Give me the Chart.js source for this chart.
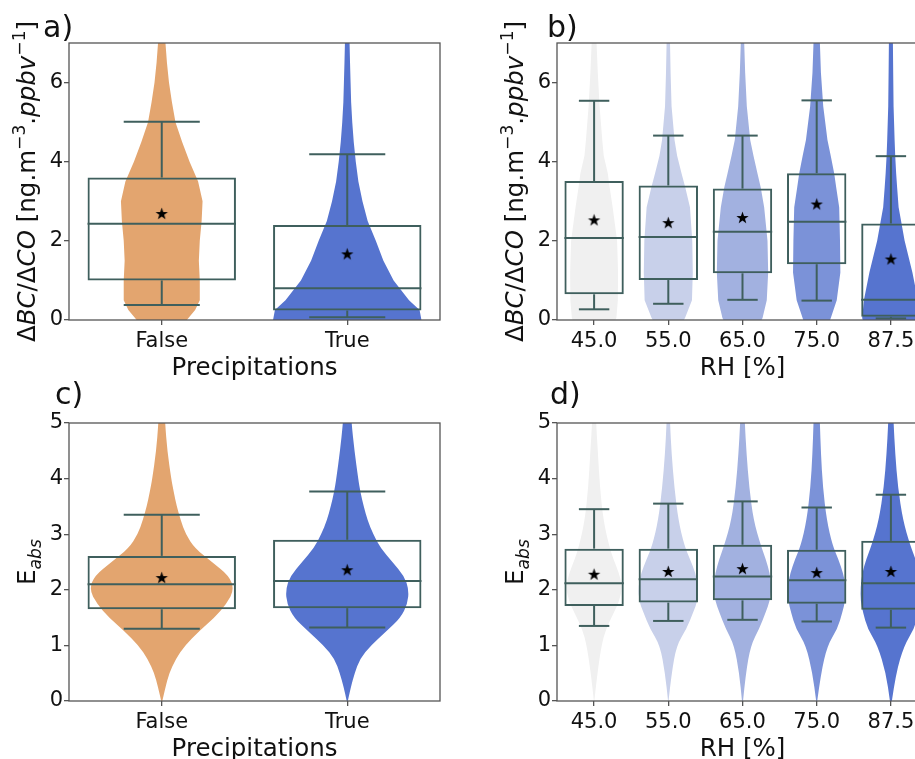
<!DOCTYPE html>
<html>
<head>
<meta charset="utf-8">
<script src="https://cdn.jsdelivr.net/npm/chart.js@4.4.0/dist/chart.umd.min.js"></script>
<style>
html, body { margin: 0; padding: 0; overflow: hidden; background: #fff; }
body { position: relative; width: 915px; height: 759px; }
canvas { position: absolute; }
</style>
</head>
<body>
<canvas id="panelA" width="460" height="380" style="left:0px;top:0px"></canvas>
<canvas id="panelB" width="480" height="380" style="left:460px;top:0px"></canvas>
<canvas id="panelC" width="460" height="420" style="left:0px;top:380px"></canvas>
<canvas id="panelD" width="480" height="420" style="left:460px;top:380px"></canvas>
<script>
// categories / ticks
const precipCats = ['False', 'True'];
const rhCats = ['45.0', '55.0', '65.0', '75.0', '87.5'];
const ticksRatio = [0, 2, 4, 6];
const ticksEabs = [0, 1, 2, 3, 4, 5];

// panel a : violin outline (half width in category units at each y level) + box stats
const aLevels = [-0.3, 0, 0.25, 0.5, 1, 1.5, 2, 2.5, 3, 3.5, 4, 4.5, 5, 5.5, 6, 6.5, 7, 7.5];
const aFalse = [0.065, 0.135, 0.18, 0.205, 0.205, 0.2, 0.205, 0.215, 0.22, 0.196, 0.15, 0.11, 0.074, 0.055, 0.039, 0.028, 0.02, 0.015];
const aTrue = [0.2, 0.40, 0.39, 0.333, 0.25, 0.195, 0.154, 0.11, 0.082, 0.06, 0.046, 0.035, 0.027, 0.021, 0.018, 0.015, 0.0125, 0.011];
const aQ1 = [1.00, 0.24];
const aQ3 = [3.60, 2.40];
const aMed = [2.43, 0.80];
const aLo = [0.38, 0.07];
const aHi = [5.01, 4.19];
const aMean = [2.69, 1.67];

// panel b
const bLevels = [-0.3, 0.05, 0.5, 1.2, 2.0, 2.85, 3.35, 3.7, 4.15, 4.55, 5.4, 6.25, 7.0, 7.5];
const b45 = [0.2, 0.3, 0.32, 0.323, 0.31, 0.25, 0.21, 0.185, 0.13, 0.11, 0.074, 0.05, 0.033, 0.028];
const b55 = [0.11, 0.225, 0.319, 0.33, 0.323, 0.292, 0.229, 0.179, 0.119, 0.084, 0.044, 0.031, 0.023, 0.02];
const b65 = [0.17, 0.27, 0.327, 0.346, 0.337, 0.292, 0.246, 0.202, 0.148, 0.104, 0.058, 0.036, 0.023, 0.02];
const b75 = [0.12, 0.19, 0.27, 0.319, 0.314, 0.303, 0.263, 0.236, 0.189, 0.145, 0.088, 0.057, 0.043, 0.038];
const b875 = [0.33, 0.387, 0.364, 0.29, 0.185, 0.104, 0.084, 0.071, 0.058, 0.05, 0.036, 0.031, 0.027, 0.025];
const bQ1 = [0.65, 1.01, 1.18, 1.41, 0.08];
const bQ3 = [3.51, 3.40, 3.32, 3.71, 2.44];
const bMed = [2.07, 2.10, 2.23, 2.48, 0.51];
const bLo = [0.27, 0.41, 0.51, 0.49, 0.04];
const bHi = [5.54, 4.66, 4.66, 5.55, 4.14];
const bMean = [2.53, 2.46, 2.59, 2.93, 1.54];

// panel c
const cLevels = [0, 0.25, 0.5, 0.75, 1, 1.25, 1.5, 1.75, 2, 2.25, 2.5, 2.75, 3, 3.25, 3.5, 3.75, 4, 4.5, 5, 5.3];
const cFalse = [0.003, 0.02, 0.04, 0.075, 0.125, 0.2, 0.284, 0.35, 0.39, 0.364, 0.27, 0.178, 0.129, 0.102, 0.081, 0.065, 0.051, 0.03, 0.018, 0.015];
const cTrue = [0.003, 0.019, 0.04, 0.067, 0.127, 0.21, 0.288, 0.325, 0.332, 0.307, 0.243, 0.18, 0.14, 0.109, 0.089, 0.071, 0.059, 0.039, 0.023, 0.019];
const cQ1 = [1.65, 1.67];
const cQ3 = [2.61, 2.90];
const cMed = [2.10, 2.16];
const cLo = [1.30, 1.32];
const cHi = [3.35, 3.77];
const cMean = [2.22, 2.36];

// panel d
const dLevels = [0, 0.5, 1, 1.3, 1.6, 1.8, 2.05, 2.3, 2.55, 2.8, 3.25, 3.85, 4.45, 5, 5.3];
const d45 = [0.003, 0.044, 0.1, 0.16, 0.27, 0.34, 0.38, 0.337, 0.26, 0.2, 0.125, 0.078, 0.052, 0.027, 0.022];
const d55 = [0.003, 0.044, 0.112, 0.246, 0.337, 0.395, 0.404, 0.368, 0.292, 0.215, 0.135, 0.081, 0.044, 0.023, 0.018];
const d65 = [0.007, 0.044, 0.112, 0.225, 0.314, 0.368, 0.39, 0.368, 0.314, 0.246, 0.148, 0.09, 0.054, 0.031, 0.025];
const d75 = [0.007, 0.057, 0.145, 0.28, 0.347, 0.384, 0.393, 0.357, 0.292, 0.213, 0.135, 0.083, 0.057, 0.043, 0.035];
const d875 = [0.013, 0.067, 0.18, 0.314, 0.377, 0.408, 0.408, 0.387, 0.333, 0.26, 0.162, 0.094, 0.058, 0.036, 0.03];
const dQ1 = [1.71, 1.77, 1.81, 1.75, 1.64];
const dQ3 = [2.74, 2.74, 2.81, 2.72, 2.88];
const dMed = [2.12, 2.19, 2.24, 2.17, 2.12];
const dLo = [1.35, 1.44, 1.46, 1.43, 1.32];
const dHi = [3.45, 3.55, 3.59, 3.48, 3.71];
const dMean = [2.28, 2.33, 2.38, 2.31, 2.33];

// colours
const precipColors = ['#E3A56F', '#5674CF'];
const rhColors = ['#F0F0F0', '#C8D0EA', '#A2B1E0', '#7B92D8', '#5674CF'];
const boxColor = '#3F5F5D';
const spineColor = '#555555';
const textColor = '#111111';
const FONT = '"DejaVu Sans", "Noto Sans", sans-serif';

// labels
const labelRatio = [
    { t: 'Δ' }, { t: 'BC', it: true }, { t: '/' }, { t: 'Δ' }, { t: 'CO', it: true },
    { t: ' [ng.m' }, { t: '−3', sup: true }, { t: '.' }, { t: 'ppbv', it: true }, { t: '−1', sup: true }, { t: ']' }
];
const labelEabs = [{ t: 'E' }, { t: 'abs', it: true, sub: true }];
const labelPrecip = [{ t: 'Precipitations' }];
const labelRH = [{ t: 'RH [%]' }];

// 5-point star used as the mean marker
function makeStar(R) {
    const c = document.createElement('canvas');
    const s = Math.ceil(R * 2 + 2);
    c.width = s; c.height = s;
    const g = c.getContext('2d');
    g.translate(s / 2, s / 2 + 0.5);
    g.beginPath();
    for (let k = 0; k < 10; k++) {
        const r = k % 2 ? R * 0.4 : R;
        const a = -Math.PI / 2 + k * Math.PI / 5;
        g.lineTo(r * Math.cos(a), r * Math.sin(a));
    }
    g.closePath();
    g.fillStyle = '#000';
    g.fill();
    return c;
}
const starImg = makeStar(6.5);

function segFont(seg, size) {
    const s = (seg.sup || seg.sub) ? size * 0.7 : size;
    return (seg.it ? 'italic ' : '') + s + 'px ' + FONT;
}

// draw mixed-style text centred on (0,0) baseline
function drawRich(ctx, segs, size) {
    let total = 0;
    segs.forEach(seg => { ctx.font = segFont(seg, size); total += ctx.measureText(seg.t).width; });
    let x = -total / 2;
    ctx.textAlign = 'left';
    ctx.textBaseline = 'alphabetic';
    ctx.fillStyle = textColor;
    segs.forEach(seg => {
        ctx.font = segFont(seg, size);
        let dy = 0;
        if (seg.sup) dy = -size * 0.42;
        if (seg.sub) dy = size * 0.26;
        ctx.fillText(seg.t, x, dy);
        x += ctx.measureText(seg.t).width;
    });
}

// per panel extras keyed by canvas id
const panels = {
    panelA: { levels: aLevels, widths: [aFalse, aTrue], colors: precipColors, med: aMed, lo: aLo, hi: aHi, q1: aQ1, q3: aQ3, smooth: false,
              letter: 'a)', letterX: 43, letterY: 37, xLabel: labelPrecip, yLabel: labelRatio },
    panelB: { levels: bLevels, widths: [b45, b55, b65, b75, b875], colors: rhColors, med: bMed, lo: bLo, hi: bHi, q1: bQ1, q3: bQ3, smooth: false,
              letter: 'b)', letterX: 87, letterY: 37, xLabel: labelRH, yLabel: labelRatio },
    panelC: { levels: cLevels, widths: [cFalse, cTrue], colors: precipColors, med: cMed, lo: cLo, hi: cHi, q1: cQ1, q3: cQ3, smooth: true,
              letter: 'c)', letterX: 55, letterY: 24, xLabel: labelPrecip, yLabel: labelEabs },
    panelD: { levels: dLevels, widths: [d45, d55, d65, d75, d875], colors: rhColors, med: dMed, lo: dLo, hi: dHi, q1: dQ1, q3: dQ3, smooth: true,
              letter: 'd)', letterX: 90, letterY: 24, xLabel: labelRH, yLabel: labelEabs }
};

const violinBoxPlugin = {
    id: 'violinBox',
    beforeDatasetsDraw(chart) {
        const p = panels[chart.canvas.id];
        const xs = chart.scales.x, ys = chart.scales.y;
        const area = chart.chartArea;
        const ctx = chart.ctx;
        const catW = xs.getPixelForValue(1) - xs.getPixelForValue(0);
        ctx.save();
        ctx.beginPath();
        ctx.rect(area.left, area.top, area.right - area.left, area.bottom - area.top);
        ctx.clip();
        // violins
        p.widths.forEach((w, i) => {
            const cx = xs.getPixelForValue(i);
            const pts = [];
            p.levels.forEach((lv, k) => pts.push([cx + w[k] * catW, ys.getPixelForValue(lv)]));
            for (let k = p.levels.length - 1; k >= 0; k--) {
                pts.push([cx - w[k] * catW, ys.getPixelForValue(p.levels[k])]);
            }
            ctx.fillStyle = p.colors[i];
            ctx.beginPath();
            ctx.moveTo(pts[0][0], pts[0][1]);
            if (p.smooth) {
                for (let k = 1; k < pts.length - 1; k++) {
                    const mx = (pts[k][0] + pts[k + 1][0]) / 2;
                    const my = (pts[k][1] + pts[k + 1][1]) / 2;
                    ctx.quadraticCurveTo(pts[k][0], pts[k][1], mx, my);
                }
                ctx.lineTo(pts[pts.length - 1][0], pts[pts.length - 1][1]);
            } else {
                pts.forEach(pt => ctx.lineTo(pt[0], pt[1]));
            }
            ctx.closePath();
            ctx.fill();
        });
        // whiskers, caps, medians
        ctx.strokeStyle = boxColor;
        ctx.lineWidth = 2;
        p.med.forEach((m, i) => {
            const cx = xs.getPixelForValue(i);
            const line = (x1, y1, x2, y2) => { ctx.beginPath(); ctx.moveTo(x1, y1); ctx.lineTo(x2, y2); ctx.stroke(); };
            line(cx, ys.getPixelForValue(p.q3[i]), cx, ys.getPixelForValue(p.hi[i]));
            line(cx, ys.getPixelForValue(p.q1[i]), cx, ys.getPixelForValue(p.lo[i]));
            line(cx - 0.205 * catW, ys.getPixelForValue(p.hi[i]), cx + 0.205 * catW, ys.getPixelForValue(p.hi[i]));
            line(cx - 0.205 * catW, ys.getPixelForValue(p.lo[i]), cx + 0.205 * catW, ys.getPixelForValue(p.lo[i]));
            line(cx - 0.4 * catW, ys.getPixelForValue(m), cx + 0.4 * catW, ys.getPixelForValue(m));
        });
        ctx.restore();
    },
    afterDraw(chart) {
        const p = panels[chart.canvas.id];
        const area = chart.chartArea;
        const ctx = chart.ctx;
        ctx.save();
        // frame
        ctx.strokeStyle = spineColor;
        ctx.lineWidth = 1.3;
        ctx.strokeRect(area.left, area.top, area.right - area.left, area.bottom - area.top);
        // panel letter
        ctx.fillStyle = textColor;
        ctx.font = '30px ' + FONT;
        ctx.textAlign = 'left';
        ctx.textBaseline = 'alphabetic';
        ctx.fillText(p.letter, p.letterX, p.letterY);
        // x axis title
        ctx.save();
        ctx.translate((area.left + area.right) / 2, area.bottom + 55);
        drawRich(ctx, p.xLabel, 24.5);
        ctx.restore();
        // y axis title
        ctx.save();
        ctx.translate(area.left - 34, (area.top + area.bottom) / 2);
        ctx.rotate(-Math.PI / 2);
        drawRich(ctx, p.yLabel, 24.5);
        ctx.restore();
        ctx.restore();
    }
};

function buildChart(id, cats, yMax, yTicks, q1, q3, means, yAxisW, padRight, xAxisH) {
    const tickGrid = { display: true, drawOnChartArea: false, drawTicks: true, tickLength: 5, color: spineColor, lineWidth: 1.3, offset: false };
    return new Chart(document.getElementById(id), {
        type: 'bar',
        data: {
            labels: cats,
            datasets: [{
                type: 'bar',
                data: q1.map((v, i) => [v, q3[i]]),
                backgroundColor: 'rgba(0,0,0,0)',
                borderColor: boxColor,
                borderWidth: 2,
                borderSkipped: false,
                barPercentage: 0.8,
                categoryPercentage: 1.0,
                order: 2
            }, {
                type: 'line',
                data: means,
                showLine: false,
                pointStyle: starImg,
                pointRadius: 6,
                order: 1
            }]
        },
        options: {
            responsive: false,
            devicePixelRatio: 1,
            animation: false,
            events: [],
            layout: { padding: { left: 0, right: padRight, top: 43, bottom: 0 } },
            plugins: { legend: { display: false }, tooltip: { enabled: false } },
            scales: {
                x: {
                    type: 'category',
                    offset: true,
                    grid: tickGrid,
                    border: { display: false },
                    ticks: { font: { family: FONT, size: 21 }, color: textColor, padding: 4, maxRotation: 0, autoSkip: false },
                    afterFit: s => { s.height = xAxisH; }
                },
                y: {
                    type: 'linear',
                    min: 0,
                    max: yMax,
                    grid: tickGrid,
                    border: { display: false },
                    ticks: { font: { family: FONT, size: 21 }, color: textColor, padding: 1 },
                    afterBuildTicks: s => { s.ticks = yTicks.map(v => ({ value: v })); },
                    afterFit: s => { s.width = yAxisW; }
                }
            }
        },
        plugins: [violinBoxPlugin]
    });
}

buildChart('panelA', precipCats, 7, ticksRatio, aQ1, aQ3, aMean, 69, 20, 60);
buildChart('panelB', rhCats, 7, ticksRatio, bQ1, bQ3, bMean, 97, 12, 60);
buildChart('panelC', precipCats, 5, ticksEabs, cQ1, cQ3, cMean, 69, 20, 99);
buildChart('panelD', rhCats, 5, ticksEabs, dQ1, dQ3, dMean, 97, 12, 99);
</script>
</body>
</html>
